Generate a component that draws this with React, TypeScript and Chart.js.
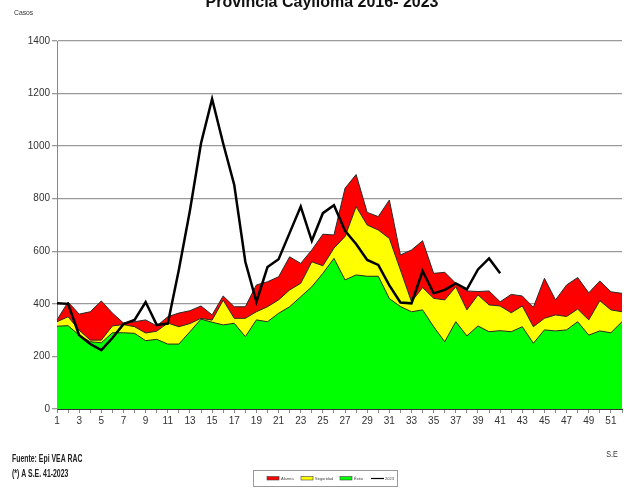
import React, { useEffect, useRef } from "react";
import { Chart, registerables } from "chart.js";

Chart.register(...registerables);

const weeks = ["1","2","3","4","5","6","7","8","9","10","11","12","13","14","15","16","17","18","19","20","21","22","23","24","25","26","27","28","29","30","31","32","33","34","35","36","37","38","39","40","41","42","43","44","45","46","47","48","49","50","51","52"];

const alarma = [339,407,361,370,411,365,327,332,339,316,351,365,374,392,358,430,389,389,472,484,503,579,554,605,665,662,840,892,748,732,795,586,605,640,516,520,478,449,447,449,408,436,430,387,497,415,472,500,442,487,446,440];
const seguridad = [332,351,300,262,262,316,321,313,289,296,327,313,325,345,338,414,345,345,370,389,415,453,478,560,545,612,656,770,700,681,649,529,408,462,421,415,465,377,434,396,392,366,392,313,345,358,352,380,339,412,377,370];
const exito = [315,317,281,256,252,290,290,288,260,265,247,247,294,342,330,320,326,275,339,332,364,389,427,465,516,573,491,510,505,505,420,390,370,377,313,256,332,278,316,294,298,294,313,250,301,297,301,332,281,297,290,332];
const casos2023 = [402,400,281,247,224,270,323,339,407,320,325,530,755,1011,1180,1010,852,560,408,540,570,670,770,640,745,775,678,628,567,548,470,405,402,525,440,453,478,455,531,573,516];

const seriesNames = ["Alarma", "Seguridad", "Éxito", "2023"];
const seriesColors = ["#ff0000", "#ffff00", "#00ff00", "#000000"];

const titleText = "Provincia Caylloma 2016- 2023";
const yAxisTitle = "Casos";
const xAxisTitle = "S.E";
const footnotes = ["Fuente: Epi VEA RAC", "(*) A S.E. 41-2023"];

const SANS = "'Liberation Sans', Arial, sans-serif";

function narrowText(ctx: CanvasRenderingContext2D, text: string, x: number, y: number, sx: number) {
  ctx.save();
  ctx.translate(x, y);
  ctx.scale(sx, 1);
  ctx.fillText(text, 0, 0);
  ctx.restore();
}

const textPlugin = {
  id: "textPlugin",
  afterDraw(chart: any) {
    const ctx = chart.ctx as CanvasRenderingContext2D;
    ctx.save();
    // title (cut at top)
    ctx.fillStyle = "#111";
    ctx.font = `bold 16px ${SANS}`;
    ctx.textAlign = "center";
    ctx.textBaseline = "alphabetic";
    ctx.fillText(titleText, 322, 6.5);

    // y title
    ctx.fillStyle = "#333";
    ctx.font = `8px ${SANS}`;
    ctx.textAlign = "left";
    narrowText(ctx, yAxisTitle, 14, 15, 0.85);

    // x title
    ctx.font = `9px ${SANS}`;
    ctx.textAlign = "center";
    narrowText(ctx, xAxisTitle, 612, 457, 0.8);

    // footnotes
    ctx.fillStyle = "#222";
    ctx.font = `bold 10px ${SANS}`;
    ctx.textAlign = "left";
    narrowText(ctx, footnotes[0], 12, 462, 0.69);
    narrowText(ctx, footnotes[1], 12, 477, 0.69);

    // legend box
    ctx.strokeStyle = "#999";
    ctx.lineWidth = 1;
    ctx.strokeRect(253.5, 470.5, 144, 16);
    const xs = [267, 301, 340, 371];
    ctx.font = `4px ${SANS}`;
    ctx.textBaseline = "middle";
    for (let i = 0; i < 4; i++) {
      const x = xs[i];
      if (i < 3) {
        ctx.fillStyle = seriesColors[i];
        ctx.fillRect(x, 476.5, 12, 3.5);
        ctx.strokeStyle = "#444";
        ctx.lineWidth = 0.6;
        ctx.strokeRect(x, 476.5, 12, 3.5);
      } else {
        ctx.strokeStyle = "#000";
        ctx.lineWidth = 1.2;
        ctx.beginPath();
        ctx.moveTo(x, 478.5);
        ctx.lineTo(x + 13, 478.5);
        ctx.stroke();
      }
      ctx.fillStyle = "#444";
      ctx.fillText(seriesNames[i], x + 14, 478.5);
    }
    ctx.restore();
  },
};

export default function App() {
  const ref = useRef<HTMLCanvasElement | null>(null);
  useEffect(() => {
    if (!ref.current) return;
    const areaBase = {
      fill: "origin",
      borderColor: "#2a2a2a",
      borderWidth: 1,
      pointRadius: 0,
      tension: 0,
    };
    const chart = new Chart(ref.current, {
      type: "line",
      data: {
        labels: weeks,
        datasets: [
          { ...areaBase, label: seriesNames[0], data: alarma, backgroundColor: seriesColors[0], order: 3 },
          { ...areaBase, label: seriesNames[1], data: seguridad, backgroundColor: seriesColors[1], order: 2 },
          { ...areaBase, label: seriesNames[2], data: exito, backgroundColor: seriesColors[2], order: 1 },
          {
            label: seriesNames[3],
            data: casos2023,
            fill: false,
            borderColor: seriesColors[3],
            borderWidth: 2.5,
            pointRadius: 0,
            tension: 0,
            order: 0,
          },
        ],
      } as any,
      options: {
        responsive: false,
        animation: false,
        devicePixelRatio: 1,
        layout: { padding: { left: 0, top: 41, right: 2, bottom: 73 } },
        plugins: {
          legend: { display: false },
          tooltip: { enabled: false },
          title: { display: false },
        },
        scales: {
          x: {
            type: "category",
            offset: false,
            grid: { display: true, drawOnChartArea: false, drawTicks: true, tickLength: 4, color: "#888" },
            border: { display: true, color: "#333", width: 1 },
            ticks: {
              autoSkip: false,
              maxRotation: 0,
              minRotation: 0,
              padding: 2,
              color: "#333",
              font: { family: SANS, size: 10 },
              callback: (_v: any, i: number) => (i % 2 === 0 ? weeks[i] : ""),
            },
            afterFit: (s: any) => { s.height = 20; },
          },
          y: {
            min: 0,
            max: 1400,
            ticks: {
              stepSize: 200,
              padding: 2,
              color: "#333",
              font: { family: SANS, size: 10 },
              callback: (v: any) => String(v),
            },
            grid: { color: "#9a9a9a", lineWidth: 1.3, drawTicks: true, tickLength: 5 },
            border: { display: true, color: "#888", width: 1 },
            afterFit: (s: any) => { s.width = 57; },
          },
        },
      } as any,
      plugins: [textPlugin],
    });
    return () => chart.destroy();
  }, []);
  return (
    <div style={{ position: "absolute", left: 0, top: 0, width: 624, height: 502, background: "#fff" }}>
      <canvas ref={ref} width={624} height={502} style={{ display: "block" }} />
    </div>
  );
}
